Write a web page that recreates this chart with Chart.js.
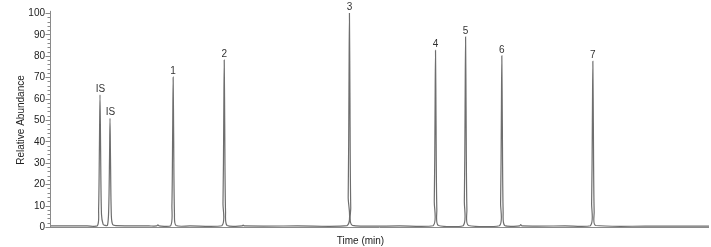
<!DOCTYPE html>
<html>
<head>
<meta charset="utf-8">
<script src="https://cdn.jsdelivr.net/npm/chart.js@4/dist/chart.umd.min.js"></script>
<style>
html,body{margin:0;padding:0;background:#fff;}
#wrap{width:711px;height:247px;position:relative;}
</style>
</head>
<body>
<div id="wrap"><canvas id="c" width="711" height="247"></canvas></div>
<script>
// Peak labels, retention times (min) and apex heights (relative abundance %)
const peakLabels = ["IS", "IS", "1", "2", "3", "4", "5", "6", "7"];
const peakTimes  = [1.214, 1.457, 2.99, 4.23, 7.27, 9.36, 10.09, 10.97, 13.18];
const peakHeights = [61.7, 50.8, 70.0, 78.0, 100.0, 82.5, 88.8, 80.0, 77.4];

// Trace points [time, abundance]
const traceTimes = [
  0.00, 0.90, 1.150, 1.180, 1.200, 1.214, 1.228, 1.250, 1.290, 1.330,
  1.395, 1.425, 1.445, 1.457, 1.469, 1.490, 1.525, 1.600, 2.400, 2.590,
  2.620, 2.650, 2.930, 2.960, 2.978, 2.990, 3.002, 3.022, 3.060, 3.400,
  4.170, 4.200, 4.218, 4.230, 4.242, 4.262, 4.300, 4.660, 4.690, 4.720,
  6.000, 7.210, 7.240, 7.258, 7.270, 7.282, 7.302, 7.340, 8.500, 9.300,
  9.330, 9.348, 9.360, 9.372, 9.392, 9.430, 10.030, 10.060, 10.078, 10.090,
  10.102, 10.122, 10.160, 10.910, 10.940, 10.958, 10.970, 10.982, 11.002, 11.040,
  11.400, 11.430, 11.460, 12.500, 13.120, 13.150, 13.168, 13.180, 13.192, 13.212,
  13.250, 14.500, 16.00
];
const traceValues = [
  0.5, 0.5, 0.6, 8.0, 38.0, 61.7, 38.0, 6.0, 1.2, 0.8,
  0.8, 8.0, 32.0, 50.8, 32.0, 5.0, 1.0, 0.6, 0.5, 0.5,
  1.0, 0.5, 0.6, 10.0, 44.0, 70.0, 44.0, 6.0, 0.7, 0.5,
  0.6, 11.0, 49.0, 78.0, 49.0, 7.0, 0.7, 0.5, 0.9, 0.5,
  0.5, 0.6, 14.0, 63.0, 100.0, 63.0, 9.0, 0.8, 0.5, 0.6,
  12.0, 52.0, 82.5, 52.0, 8.0, 0.7, 0.6, 12.0, 56.0, 88.8,
  56.0, 8.0, 0.7, 0.6, 11.0, 50.0, 80.0, 50.0, 7.0, 0.7,
  0.5, 1.1, 0.5, 0.5, 0.6, 11.0, 49.0, 77.4, 49.0, 7.0,
  0.7, 0.4, 0.4
];
const yMajorTicks = [0, 10, 20, 30, 40, 50, 60, 70, 80, 90, 100];
const yMinorStep = 2;
const xTitle = 'Time (min)';

const FONT = "'Liberation Sans', Arial, sans-serif";
const AXIS_COLOR = '#8a8a8a';

const trace = traceTimes.map((t, i) => ({x: t, y: traceValues[i]}));

const axisPlugin = {
  id: 'axisDeco',
  afterDraw(chart) {
    const ctx = chart.ctx;
    const ys = chart.scales.y, xs = chart.scales.x;
    const x0 = xs.left;
    ctx.save();
    ctx.strokeStyle = AXIS_COLOR;
    ctx.lineWidth = 1;
    ctx.beginPath();
    ctx.moveTo(x0 + 0.5, ys.getPixelForValue(101));
    ctx.lineTo(x0 + 0.5, ys.getPixelForValue(0));
    ctx.stroke();
    for (let v = 0; v <= 100; v += yMinorStep) {
      const py = Math.round(ys.getPixelForValue(v)) + 0.5;
      const major = yMajorTicks.includes(v);
      ctx.beginPath();
      ctx.moveTo(x0 + 0.5 - (major ? 5 : 3), py);
      ctx.lineTo(x0 + 0.5, py);
      ctx.stroke();
    }
    const py0 = Math.round(ys.getPixelForValue(0)) + 0.5;
    ctx.beginPath();
    ctx.moveTo(x0, py0);
    ctx.lineTo(xs.right, py0);
    ctx.stroke();
    ctx.fillStyle = '#222';
    ctx.font = '10px ' + FONT;
    ctx.textAlign = 'right';
    ctx.textBaseline = 'middle';
    yMajorTicks.forEach(v => {
      ctx.fillText(String(v), x0 - 5, ys.getPixelForValue(v) + 0.5);
    });
    // x-axis title (slightly left of centre, as in the original)
    ctx.textAlign = 'center';
    ctx.textBaseline = 'middle';
    ctx.fillText(xTitle, (xs.left + xs.right) / 2 - 19, py0 + 14);
    // peak labels
    ctx.textBaseline = 'bottom';
    ctx.fillStyle = '#333';
    peakLabels.forEach((lab, i) => {
      const px = xs.getPixelForValue(peakTimes[i]);
      const pyv = ys.getPixelForValue(peakHeights[i]);
      ctx.fillText(lab, px + (lab === 'IS' ? 0.5 : 0), pyv - 1);
    });
    ctx.restore();
  }
};

new Chart(document.getElementById('c'), {
  type: 'scatter',
  data: {
    datasets: [{
      data: trace,
      showLine: true,
      borderColor: '#6e6e6e',
      borderWidth: 1.2,
      pointRadius: 0,
      tension: 0.3,
      fill: false
    }]
  },
  options: {
    responsive: false,
    animation: false,
    events: [],
    layout: {padding: {top: 13, right: 2, left: 15, bottom: 0}},
    plugins: {legend: {display: false}, tooltip: {enabled: false}},
    scales: {
      x: {
        type: 'linear', min: 0, max: 16,
        grid: {display: false, drawTicks: false},
        border: {display: false},
        ticks: {display: false},
        title: {display: false},
        afterFit(s) { s.height = 20; }
      },
      y: {
        min: 0, max: 100,
        grid: {display: false, drawTicks: false},
        border: {display: false},
        ticks: {display: false},
        title: {display: true, text: 'Relative Abundance', color: '#222',
                font: {family: FONT, size: 10}, padding: {top: 0, bottom: 0}},
        afterFit(s) { s.width = 35; }
      }
    }
  },
  plugins: [axisPlugin]
});
</script>
</body>
</html>
